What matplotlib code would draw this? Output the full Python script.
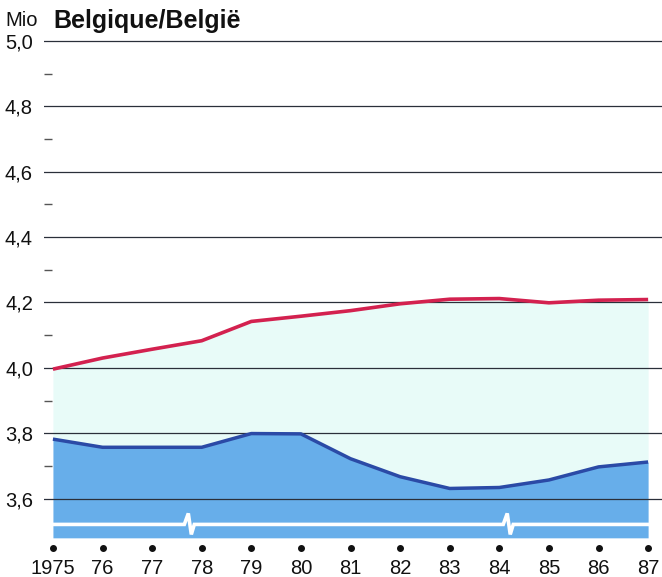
import matplotlib
matplotlib.use("Agg")
import matplotlib.pyplot as plt
import numpy as np

years = [1975, 1976, 1977, 1978, 1979, 1980, 1981, 1982, 1983, 1984, 1985, 1986, 1987]
year_labels = ["1975", "76", "77", "78", "79", "80", "81", "82", "83", "84", "85", "86", "87"]
red_values = [3.996, 4.030, 4.057, 4.083, 4.142, 4.158, 4.175, 4.196, 4.210, 4.212, 4.199, 4.207, 4.209]
blue_values = [3.782, 3.757, 3.757, 3.757, 3.799, 3.798, 3.722, 3.667, 3.631, 3.634, 3.657, 3.697, 3.712]
y_major = [3.6, 3.8, 4.0, 4.2, 4.4, 4.6, 4.8, 5.0]
y_major_labels = ["3,6", "3,8", "4,0", "4,2", "4,4", "4,6", "4,8", "5,0"]
y_minor = [3.7, 3.9, 4.1, 4.3, 4.5, 4.7, 4.9]
break_years = [1977.77, 1984.2]

plt.rcParams['font.family'] = ['Liberation Sans', 'DejaVu Sans']

W, H = 662, 577
fig = plt.figure(figsize=(W / 100, H / 100), dpi=100)
ax = fig.add_axes([44 / W, 1 - 546 / H, 1 - 44 / W, (546 - 40) / H])

ymin, ymax = 3.455, 5.003
ax.set_ylim(ymin, ymax)
ax.set_xlim(1974.82, 1987.28)

base = 3.48
blue_fill = "#67aeea"
cyan_fill = "#e8fbf8"
ax.fill_between(years, base, blue_values, color=blue_fill, lw=0, zorder=1)
ax.fill_between(years, blue_values, red_values, color=cyan_fill, lw=0, zorder=1)

for v in y_major:
    ax.axhline(v, color="#2a2f3a", lw=0.9, zorder=2)

# white axis-break line
brk_y = 3.521
px_x = 1 / 49.6
px_y = 1 / 326.9
xs = [years[0]]
ys = [brk_y]
for b in break_years:
    offs = [(-6, 0), (-2, 11), (1, -10), (4, 0)]
    for dx, dy in offs:
        xs.append(b + dx * px_x)
        ys.append(brk_y + dy * px_y)
xs.append(years[-1])
ys.append(brk_y)
ax.plot(xs, ys, color="white", lw=2.6, zorder=3, solid_joinstyle="miter")

ax.plot(years, blue_values, color="#2b4aa6", lw=2.5, zorder=4, solid_capstyle="butt")
ax.plot(years, red_values, color="#d3214f", lw=2.6, zorder=5, solid_capstyle="butt")

# round tick dots below the plot
ax.plot(years, [-0.004] * len(years), "o", ms=4, color="#111111",
        transform=ax.get_xaxis_transform(), clip_on=False, zorder=6)

for s in ax.spines.values():
    s.set_visible(False)

ax.set_yticks(y_major)
ax.set_yticklabels(y_major_labels, fontsize=14.5, color="#111111")
ax.set_yticks(y_minor, minor=True)
ax.tick_params(axis="y", which="major", length=0, pad=8)
ax.tick_params(axis="y", which="minor", direction="in", length=6, width=1, color="#555555")

ax.set_xticks(years)
ax.set_xticklabels(year_labels, fontsize=14.5, color="#111111")
ax.tick_params(axis="x", which="major", length=0, pad=9)

fig.text(5 / W, 1 - 21 / H, "Mio", fontsize=14.5, va="center", ha="left", color="#111111")
fig.text(53 / W, 1 - 21 / H, "Belgique/België", fontsize=18, fontweight="bold", va="center", ha="left", color="#111111")

fig.savefig("out.png", dpi=100, facecolor="white")
